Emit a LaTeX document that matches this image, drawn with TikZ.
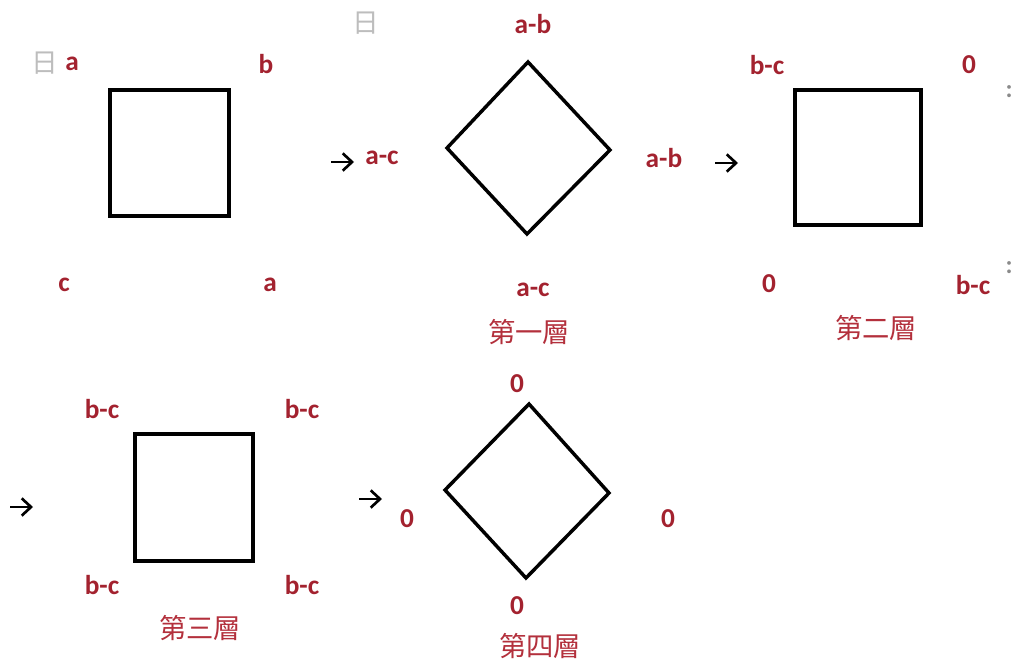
\documentclass[tikz,border=0pt]{standalone}
\usepackage{fontspec}
\setmainfont{Carlito}
\newfontfamily\cjk{Noto Sans CJK TC}
\usetikzlibrary{arrows.meta}
\definecolor{lbl}{HTML}{A3222F}
\definecolor{cap}{HTML}{B3303C}
\definecolor{ghost}{HTML}{BDBDBD}
\definecolor{dotgray}{HTML}{8A8A8A}
\tikzset{
  lab/.style={text=lbl,font=\fontsize{20.5}{22}\selectfont\bfseries,inner sep=0pt,anchor=center},
  layer/.style={text=cap,font=\cjk\fontsize{20.5}{22}\selectfont,inner sep=0pt,anchor=center},
  ghostmark/.style={text=ghost,font=\cjk\fontsize{20}{22}\selectfont,inner sep=0pt,anchor=center},
  dotmark/.style={text=dotgray,font=\fontsize{19}{20}\selectfont\bfseries,inner sep=0pt,anchor=center},
  outline/.style={draw=black,line width=2.6pt,line join=miter},
  step arrow/.style={draw=black,line width=2pt,-{Straight Barb[length=7pt,width=13pt,line width=2pt]}}
}
\begin{document}
\begin{tikzpicture}[x=0.75pt,y=-0.75pt]
\useasboundingbox (0,0) rectangle (1018,664);

% ---- first square ----
\draw[outline] (110,90) rectangle (229,216);
\node[ghostmark] (g1) at (45,63) {日};
\node[lab] (s1a) at (72,64) {a};
\node[lab] (s1b) at (266,64) {b};
\node[lab] (s1c) at (64,285) {c};
\node[lab] (s1d) at (270,285) {a};

% ---- layer one: diamond ----
\coordinate (a1s) at (331,162); \coordinate (a1e) at (354,162);
\draw[step arrow] (a1s) -- (a1e);
\node[ghostmark] (g2) at (366,23) {日};
\draw[outline] (528,62) -- (610,150) -- (527,234) -- (447,148) -- cycle;
\node[lab] (d1t) at (533,24) {a-b};
\node[lab] (d1l) at (382,158) {a-c};
\node[lab] (d1r) at (664,158) {a-b};
\node[lab] (d1b) at (533,290) {a-c};
\node[layer] (L1) at (529,332) {第一層};

% ---- layer two: square ----
\coordinate (a2s) at (715,163); \coordinate (a2e) at (738,163);
\draw[step arrow] (a2s) -- (a2e);
\draw[outline] (795,90) rectangle (921,225);
\node[lab] (s2a) at (767,65) {b-c};
\node[lab] (s2b) at (969,65) {0};
\node[lab] (s2c) at (769,284) {0};
\node[lab] (s2d) at (973,285) {b-c};
\node[layer] (L2) at (876,328) {第二層};
\node[dotmark] (k1) at (1009,92) {:};
\node[dotmark] (k2) at (1009,268) {:};

% ---- layer three: square ----
\coordinate (a3s) at (10,507); \coordinate (a3e) at (33,507);
\draw[step arrow] (a3s) -- (a3e);
\draw[outline] (135,434) rectangle (253,561);
\node[lab] (s3a) at (102,409) {b-c};
\node[lab] (s3b) at (302,409) {b-c};
\node[lab] (s3c) at (102,585) {b-c};
\node[lab] (s3d) at (302,585) {b-c};
\node[layer] (L3) at (200,628) {第三層};

% ---- layer four: diamond ----
\coordinate (a4s) at (359,499); \coordinate (a4e) at (382,499);
\draw[step arrow] (a4s) -- (a4e);
\draw[outline] (529,404) -- (609,493) -- (526,578) -- (445,490) -- cycle;
\node[lab] (d2t) at (517,384) {0};
\node[lab] (d2l) at (407,519) {0};
\node[lab] (d2r) at (668,519) {0};
\node[lab] (d2b) at (517,606) {0};
\node[layer] (L4) at (540,646) {第四層};
\end{tikzpicture}
\end{document}
